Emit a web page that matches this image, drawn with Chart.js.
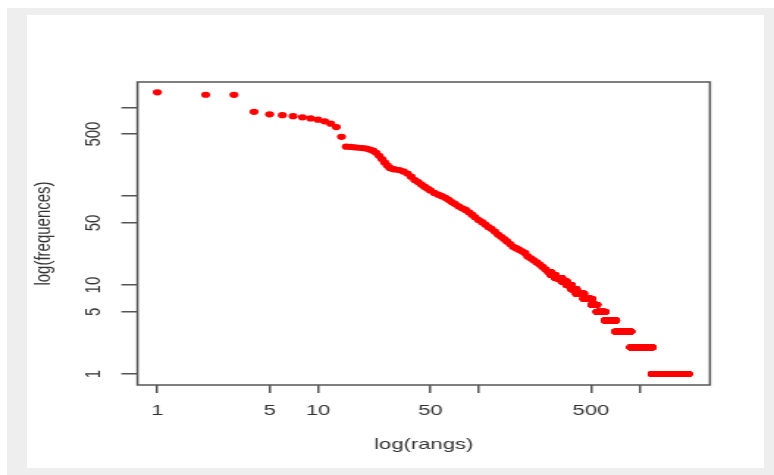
<!DOCTYPE html>
<html><head><meta charset="utf-8">
<script src="https://cdn.jsdelivr.net/npm/chart.js@4.4.1/dist/chart.umd.min.js"></script>
<style>
html,body{margin:0;padding:0;background:#fff;}
body{width:774px;height:475px;position:relative;overflow:hidden;}
#frame{position:absolute;left:7px;top:8px;width:767px;height:467px;background:#eeeeee;}
#panel{position:absolute;left:27px;top:15px;width:737px;height:453px;background:#fff;}
#wrap{position:absolute;left:0;top:0;width:527px;height:475px;transform-origin:0 0;transform:scaleX(1.46869);}
</style></head><body>
<div id="frame"></div><div id="panel"></div>
<div id="wrap"><canvas id="c" width="527" height="475"></canvas></div>
<script>
// ranks with distinct frequencies
const topRanks = [1,2,3,4,5,6,7,8,9,10,11,12,13,14,15,16,17,18,19,20,21,22,23,24,25,26,27,28,29,30,32,34,36,38,40,42,44,46,48,50,53,56,59,62,65,68,71,75,79,83,87,91,95,100,105,110,115,120,126,132,138,144,150,157,164,171,178,186,194,202,211,220,230,240,250,261,272];
const topFreqs = [1475,1385,1380,890,834,815,795,772,750,725,695,655,600,465,361,358,355,351,348,343,335,325,308,285,262,240,222,208,203,200,197,190,180,166,152,144,135,128,122,116,109,104,100,96,91,86,82,77,73,70,66,62,58,54,51,48,45,43,40,37,35,33,31,29,27,26,25,24,23,21,20,19,18,17,16,15,14];
// tail: low frequencies and how many consecutive ranks (words) share each
const tailFreqs  = [14,13,12,11,10,9,8,7,6,5,4,3,2,1];
const tailCounts = [9,18,30,23,26,27,45,56,38,68,99,173,316,810];

const xTickValues = [1,5,10,50,100,500,1000];
const xTickLabels = ['1','5','10','50','','500',''];
const yTickValues = [1,5,10,50,100,500,1000];
const yTickLabels = ['1','5','10','50','','500',''];

const points = [];
topRanks.forEach((r,i)=>points.push({x:r,y:topFreqs[i]}));
let rank = topRanks[topRanks.length-1] + 1;
tailFreqs.forEach((f,i)=>{ for(let k=0;k<tailCounts[i];k++){ points.push({x:rank,y:f}); rank++; } });

const FONT = "'Liberation Sans', Arial, Helvetica, sans-serif";
const axisColor = '#555555';
const textColor = '#333333';

const boxPlugin = {
  id:'box',
  afterDraw(chart){
    const {ctx, chartArea:a} = chart;
    ctx.save();
    ctx.strokeStyle = axisColor;
    ctx.lineWidth = 1.5;
    ctx.strokeRect(a.left, a.top, a.right-a.left, a.bottom-a.top);
    ctx.restore();
  }
};

new Chart(document.getElementById('c'), {
  type:'scatter',
  data:{ datasets:[{ data:points, backgroundColor:'#ff0000', borderWidth:0, pointRadius:3.1, pointHoverRadius:3.1, pointStyle:'circle' }] },
  options:{
    responsive:false, animation:false, devicePixelRatio:1,
    layout:{ padding:{ left:0, top:82, right:43.6, bottom:0 } },
    plugins:{ legend:{display:false}, tooltip:{enabled:false} },
    scales:{
      x:{
        type:'logarithmic', position:'bottom', bounds:'data', min:0.7526, max:2752,
        afterBuildTicks: s => { s.ticks = xTickValues.map(v=>({value:v})); },
        afterFit: s => { s.height = 90; },
        ticks:{ autoSkip:false, minRotation:0, maxRotation:0, padding:9, color:textColor,
          font:{family:FONT, size:15}, callback:(v,i)=>xTickLabels[i] },
        grid:{ display:true, drawOnChartArea:false, drawTicks:true, tickLength:8, color:axisColor, lineWidth:1.5 },
        border:{ display:false },
        title:{ display:true, text:'log(rangs)', color:textColor, font:{family:FONT, size:15}, padding:{top:0, bottom:21.5} }
      },
      y:{
        type:'logarithmic', position:'left', bounds:'data', min:0.752, max:1926,
        afterBuildTicks: s => { s.ticks = yTickValues.map(v=>({value:v})); },
        afterFit: s => { s.width = 93.6; },
        ticks:{ autoSkip:false, minRotation:90, maxRotation:90, crossAlign:'center', padding:5.8, color:textColor,
          font:{family:FONT, size:15}, callback:(v,i)=>yTickLabels[i] },
        grid:{ display:true, drawOnChartArea:false, drawTicks:true, tickLength:11, color:axisColor, lineWidth:1.5 },
        border:{ display:false },
        title:{ display:true, text:'log(frequences)', color:textColor, font:{family:FONT, size:15}, padding:{top:20.9, bottom:0} }
      }
    }
  },
  plugins:[boxPlugin]
});
</script></body></html>
